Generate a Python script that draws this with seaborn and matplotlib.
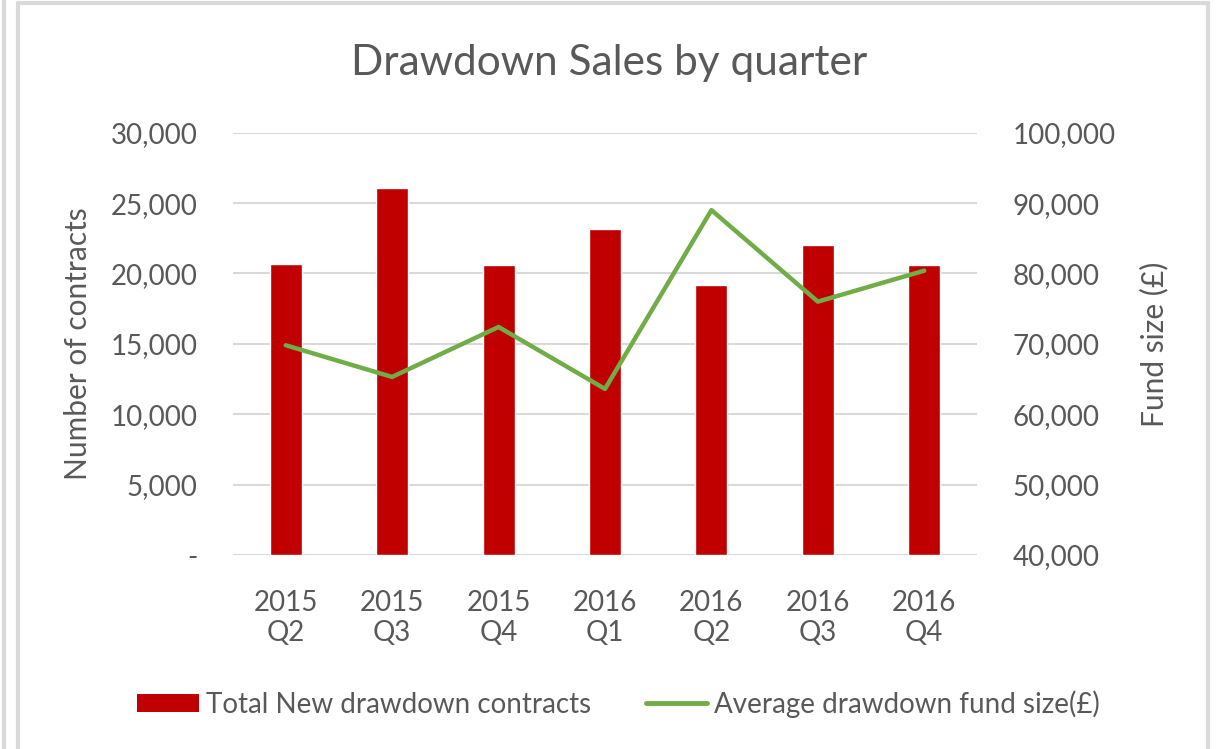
import matplotlib
matplotlib.use('Agg')

import pandas as pd
import seaborn as sns
import matplotlib.pyplot as plt
from matplotlib.lines import Line2D
from matplotlib.patches import Patch
from matplotlib.ticker import FuncFormatter

# data
quarters = ["2015\nQ2", "2015\nQ3", "2015\nQ4", "2016\nQ1", "2016\nQ2", "2016\nQ3", "2016\nQ4"]
contracts = [20700, 26100, 20600, 23150, 19200, 22000, 20600]
fund_size = [69800, 65300, 72400, 63600, 89000, 76000, 80400]

BAR_COLOR = "#C00000"
LINE_COLOR = "#70AD47"
TEXT_COLOR = "#595959"
GRID_COLOR = "#D9D9D9"

sns.set_style("white")
plt.rcParams['font.family'] = ['Lato', 'DejaVu Sans']

df = pd.DataFrame({'quarter': quarters, 'contracts': contracts, 'fund': fund_size})

W, H = 1218, 749
fig = plt.figure(figsize=(W / 100, H / 100), dpi=100)
ax = fig.add_axes([232.5 / W, 1 - 555 / H, 745 / W, (555 - 132.7) / H])

sns.barplot(data=df, x='quarter', y='contracts', color=BAR_COLOR, width=0.3,
            saturation=1, ax=ax, zorder=3)
ax.set_ylim(0, 30000)
ax.set_xlim(-0.5, len(quarters) - 0.5)
ax.set_yticks(range(0, 30001, 5000))
ax.yaxis.set_major_formatter(FuncFormatter(lambda v, p: "-" if v == 0 else f"{int(v):,}"))
ax.grid(axis='y', color=GRID_COLOR, lw=1.5, zorder=0)
ax.set_axisbelow(True)
for s in ax.spines.values():
    s.set_visible(False)
ax.tick_params(axis='y', length=0, pad=25, labelsize=20, labelcolor=TEXT_COLOR)
ax.tick_params(axis='x', length=0, pad=25, labelsize=20, labelcolor=TEXT_COLOR)
ax.set_xlabel("")
ax.set_ylabel("Number of contracts", fontsize=21.5, color=TEXT_COLOR)
ax.yaxis.set_label_coords(-0.189, 0.5)

ax2 = ax.twinx()
sns.lineplot(data=df, x='quarter', y='fund', color=LINE_COLOR, lw=3.2, sort=False, ax=ax2)
ax2.set_ylim(40000, 100000)
ax2.set_yticks(range(40000, 100001, 10000))
ax2.yaxis.set_major_formatter(FuncFormatter(lambda v, p: f"{int(v):,}"))
for s in ax2.spines.values():
    s.set_visible(False)
ax2.tick_params(axis='y', length=0, pad=25, labelsize=20, labelcolor=TEXT_COLOR)
ax2.set_ylabel("Fund size (£)", fontsize=21.5, color=TEXT_COLOR)
ax2.yaxis.set_label_coords(1.218, 0.5)

fig.text(0.5, 1 - 63 / H, "Drawdown Sales by quarter", ha='center', va='center',
         fontsize=30.5, color=TEXT_COLOR)

handles = [Patch(facecolor=BAR_COLOR, edgecolor='none'),
           Line2D([], [], color=LINE_COLOR, lw=3.5)]
fig.legend(handles, ["Total New drawdown contracts", "Average drawdown fund size(£)"],
           loc='center', bbox_to_anchor=(0.508, 1 - 704 / H), ncol=2, frameon=False,
           fontsize=20, labelcolor=TEXT_COLOR, handlelength=2.2, handleheight=0.62,
           handletextpad=0.25, columnspacing=2.0)

# chart frame borders
for xs, ys in [([4, 4], [0, H]), ([18, 18], [3, H]), ([18, 1208], [3, 3]), ([1208, 1208], [3, H])]:
    fig.add_artist(Line2D([x / W for x in xs], [1 - y / H for y in ys],
                          transform=fig.transFigure, color=GRID_COLOR, lw=3))

fig.savefig("out.png", dpi=100)
